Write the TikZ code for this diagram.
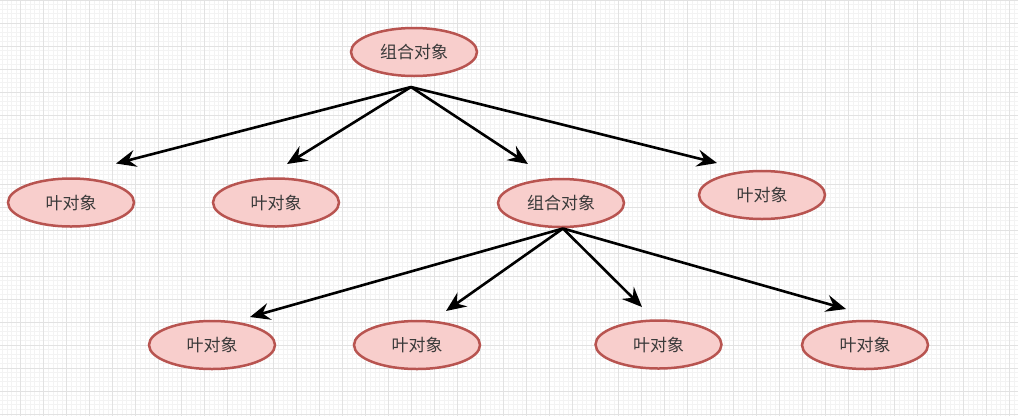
\documentclass[tikz,border=0pt]{standalone}
\usepackage{fontspec}
\newfontfamily\cjk{Noto Sans CJK SC}
\usetikzlibrary{shapes.geometric,arrows.meta}
\definecolor{gridmajor}{RGB}{226,226,226}
\definecolor{gridminor}{RGB}{243,243,243}
\definecolor{nodefill}{HTML}{F8CECC}
\definecolor{nodeline}{HTML}{B85450}
\definecolor{txt}{HTML}{3A3A3A}
\tikzset{
  obj/.style={ellipse, draw=nodeline, fill=nodefill, line width=2.5pt,
    minimum width=126pt, minimum height=48pt, inner sep=0pt,
    font=\cjk\fontsize{17}{19}\selectfont, text=txt},
  link/.style={line width=2.6pt, black, -{Stealth[length=20pt,width=17pt,inset=7pt]}}
}
\begin{document}
\begin{tikzpicture}[x=1pt,y=-1pt]
\useasboundingbox (0,0) rectangle (1018,416);
\fill[white] (0,0) rectangle (1018,416);
% minor grid
\foreach \i in {0,...,221} \draw[gridminor,line width=0.8pt] ({2.3+4.6*\i},0) -- ({2.3+4.6*\i},416);
\foreach \i in {0,...,90} \draw[gridminor,line width=0.8pt] (0,{4.6*\i}) -- (1018,{4.6*\i});
% major grid
\foreach \i in {0,...,43} \draw[gridmajor,line width=1pt] ({20.7+23*\i},0) -- ({20.7+23*\i},416);
\foreach \i in {0,...,18} \draw[gridmajor,line width=1pt] (0,{23*\i}) -- (1018,{23*\i});

% nodes
\node[obj] (c1) at (414,52) {组合对象};
\node[obj] (l1) at (71,202.5) {叶对象};
\node[obj] (l2) at (276,202.5) {叶对象};
\node[obj] (c2) at (561,203) {组合对象};
\node[obj] (l3) at (762,195) {叶对象};
\node[obj] (b1) at (212,345) {叶对象};
\node[obj] (b2) at (417,345) {叶对象};
\node[obj] (b3) at (658.5,344.5) {叶对象};
\node[obj] (b4) at (865,345) {叶对象};

% connector ends
\coordinate (s1) at (411,87);
\coordinate (s2) at (563,228.5);
\coordinate (t1) at (116,163.5);
\coordinate (t2) at (287,164);
\coordinate (t3) at (528,164);
\coordinate (t4) at (717,163);
\coordinate (u1) at (250,317);
\coordinate (u2) at (446,311);
\coordinate (u3) at (642,307);
\coordinate (u4) at (846,309);

\draw[link] (s1) -- (t1);
\draw[link] (s1) -- (t2);
\draw[link] (s1) -- (t3);
\draw[link] (s1) -- (t4);
\draw[link] (s2) -- (u1);
\draw[link] (s2) -- (u2);
\draw[link] (s2) -- (u3);
\draw[link] (s2) -- (u4);
\end{tikzpicture}
\end{document}
